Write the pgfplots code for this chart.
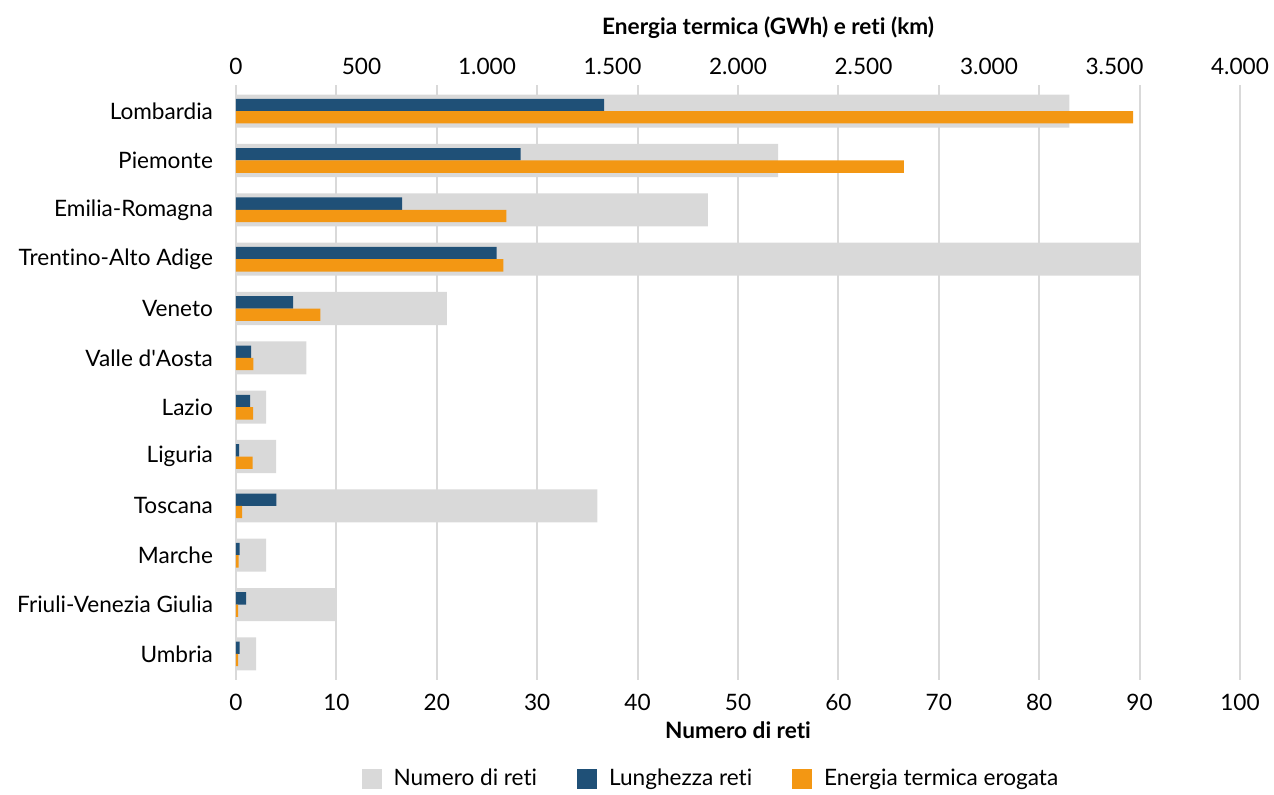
\documentclass[border=0pt]{standalone}
\usepackage{fontspec}
\setmainfont{Lato}[Ligatures={NoCommon}]
\usepackage{pgfplots}
\pgfplotsset{compat=1.18}
\definecolor{gridgray}{HTML}{D9D9D9}
\definecolor{barblue}{HTML}{1F5077}
\definecolor{barorange}{HTML}{F39713}

% numero di reti (asse in basso)
\pgfplotstableread{
y n
0 83
1 54
2 47
3 90
4 21
5 7
6 3
7 4
8 36
9 3
10 10
11 2
}\numreti
% lunghezza reti (km) ed energia (GWh), asse in alto
\pgfplotstableread{
y km gwh
0 1467 3574
1 1134 2661
2 662 1077
3 1038 1065
4 228 336
5 60 69
6 56 68
7 12 66
8 161 24
9 14 10
10 40 8
11 14 8
}\energia

\newcommand{\lblfont}{\fontsize{11.3}{13}\selectfont}
\pgfplotsset{
  common/.style={
    at={(0,0)}, anchor=south west,
    scale only axis, width=502pt, height=297.5pt,
    ymin=-0.53, ymax=11.53, y dir=reverse,
    axis line style={draw=none},
    major tick length=0pt,
    tick label style={font=\lblfont},
    /pgf/number format/assume math mode=true,
    /pgf/number format/1000 sep={.},
  },
}

\begin{document}
\begin{tikzpicture}
\path[use as bounding box] (-118pt,-57pt) rectangle (519pt,340pt);
\begin{axis}[
  common,
  xbar, bar width=0.67,
  xmin=0, xmax=100,
  xtick={0,10,...,100},
  xmajorgrids, grid style={gridgray, line width=1pt},
  ytick={0,...,11},
  yticklabels={Lombardia, Piemonte, Emilia-Romagna, Trentino-Alto Adige, Veneto, {Valle d\textquotesingle Aosta}, Lazio, Liguria, Toscana, Marche, Friuli-Venezia Giulia, Umbria},
  yticklabel style={xshift=-8pt},
  xticklabel style={yshift=-3.5pt},
  xlabel={\textbf{Numero di reti}},
  xlabel style={font=\lblfont, at={(axis description cs:0.5,0)}, anchor=center, yshift=-25pt},
]
\addplot[fill=gridgray, draw=none] table[x=n, y=y] {\numreti};
\end{axis}
\begin{axis}[
  common,
  xbar, bar width=0.25,
  xmin=0, xmax=4000,
  axis x line*=top,
  xtick={0,500,...,4000},
  ytick=\empty,
  xticklabel pos=upper,
  xticklabel style={yshift=1.5pt},
  xlabel={\textbf{Energia termica (GWh) e reti (km)}},
  xlabel style={font=\lblfont, at={(axis description cs:0.53,1)}, anchor=center, yshift=28.5pt},
  legend columns=3,
  legend style={draw=none, fill=none, font=\lblfont,
    at={(axis description cs:0.474,-0.166)}, anchor=center,
    column sep=4pt,
    /tikz/every even column/.append style={column sep=18pt}},
  legend image code/.code={\fill[#1] (0pt,-5pt) rectangle (10pt,5pt);},
]
\addlegendimage{fill=gridgray, draw=none}
\addlegendentry{Numero di reti}
\addplot[fill=barblue, draw=none, bar shift=-0.125] table[x=km, y=y] {\energia};
\addlegendentry{Lunghezza reti}
\addplot[fill=barorange, draw=none, bar shift=0.125] table[x=gwh, y=y] {\energia};
\addlegendentry{Energia termica erogata}
\end{axis}
\end{tikzpicture}
\end{document}
